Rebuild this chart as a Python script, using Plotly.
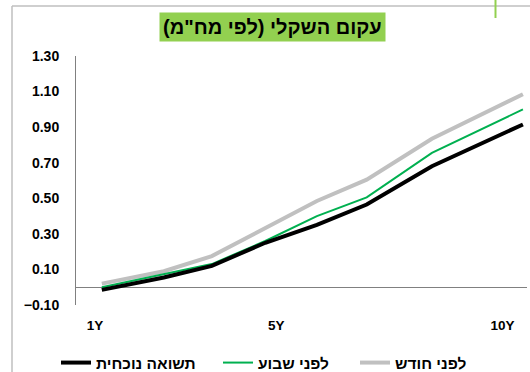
import plotly.graph_objects as go

# Data (x = years to maturity, y = yield %)
maturity = [1.15, 2.52, 3.58, 4.76, 5.90, 7.00, 8.44, 10.45]
month_ago = [0.02, 0.09, 0.175, 0.335, 0.485, 0.605, 0.835, 1.085]
week_ago = [0.00, 0.075, 0.13, 0.26, 0.40, 0.505, 0.755, 1.00]
current = [-0.015, 0.055, 0.12, 0.25, 0.35, 0.465, 0.68, 0.915]

series_names = ["לפני חודש", "לפני שבוע", "תשואה נוכחית"]
tick_vals = [1, 5, 10]
tick_text = ["1Y", "5Y", "10Y"]
y_ticks = [-0.10, 0.10, 0.30, 0.50, 0.70, 0.90, 1.10, 1.30]
title_text = 'עקום השקלי (לפי מח"מ)\u200F'

FONT = "Liberation Sans, Arial, sans-serif"
W, H = 530, 372
L, R, T, B = 76, 3, 56, 67
PW, PH = W - L - R, H - T - B


def px(xp):
    return (xp - L) / PW


def py(yp):
    return (H - B - yp) / PH


fig = go.Figure()
fig.add_trace(go.Scatter(x=maturity, y=month_ago, mode="lines", name=series_names[0],
                         legend="legend3", line=dict(color="#C0C0C0", width=4)))
fig.add_trace(go.Scatter(x=maturity, y=week_ago, mode="lines", name=series_names[1],
                         legend="legend2", line=dict(color="#00B050", width=2)))
fig.add_trace(go.Scatter(x=maturity, y=current, mode="lines", name=series_names[2],
                         legend="legend", line=dict(color="#000000", width=4)))

leg_font = dict(size=15.5, family=FONT, color="black", weight="bold")


def leg(xpix):
    return dict(orientation="h", xref="container", yref="container",
                x=xpix / W, xanchor="left", y=(H - 363) / H, yanchor="middle",
                font=leg_font, itemwidth=30, bgcolor="rgba(0,0,0,0)")


fig.update_layout(
    width=W, height=H,
    margin=dict(l=L, r=R, t=T, b=B, autoexpand=False),
    paper_bgcolor="white", plot_bgcolor="white",
    font=dict(family=FONT, color="black"),
    showlegend=True,
    legend=leg(56), legend2=leg(218), legend3=leg(355),
    annotations=[dict(text="<b>" + title_text + "</b>", xref="paper", yref="paper",
                      x=px(272), y=py(27.5), xanchor="center", yanchor="middle",
                      showarrow=False, bgcolor="#92D050", borderpad=3,
                      font=dict(size=20, family=FONT, color="black"))],
    shapes=[
        dict(type="line", xref="paper", yref="paper", x0=px(12), x1=px(12),
             y0=py(6), y1=py(380), line=dict(color="#BFBFBF", width=1.5)),
        dict(type="line", xref="paper", yref="paper", x0=px(12), x1=px(540),
             y0=py(6), y1=py(6), line=dict(color="#BFBFBF", width=1.5)),
        dict(type="line", xref="paper", yref="paper", x0=px(495.5), x1=px(495.5),
             y0=py(-2), y1=py(18), line=dict(color="#92D050", width=2)),
    ],
)

fig.update_xaxes(range=[0.58, 10.54], tickvals=tick_vals, ticktext=tick_text,
                 showgrid=False, zeroline=False, showline=False, ticks="",
                 ticklabelstandoff=10,
                 tickfont=dict(size=13.5, family=FONT, color="black", weight="bold"))
fig.update_yaxes(range=[-0.10, 1.30], tickvals=y_ticks, tickformat=".2f",
                 showgrid=False, zeroline=True, zerolinecolor="#808080", zerolinewidth=1,
                 showline=True, linecolor="#808080", linewidth=1, ticks="",
                 ticklabelstandoff=13,
                 tickfont=dict(size=14, family=FONT, color="black", weight="bold"))

fig.write_html("out.html")
